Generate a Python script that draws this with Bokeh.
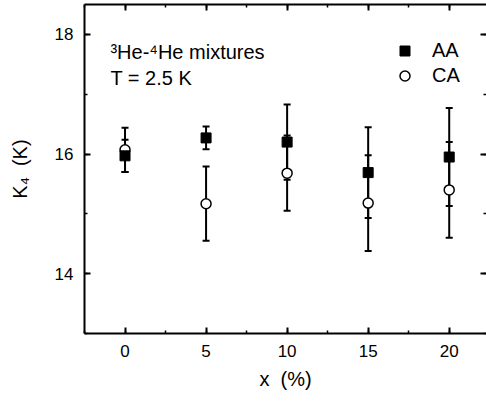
from bokeh.plotting import figure
from bokeh.models import (ColumnDataSource, Whisker, TeeHead, LinearAxis, Range1d,
                          SingleIntervalTicker, Legend, LegendItem, Label, CustomJSTickFormatter)
from bokeh.embed import file_html
from bokeh.resources import INLINE

# ---- data ----
x_pct = [0, 5, 10, 15, 20]
aa_k4 = [15.97, 16.27, 16.20, 15.69, 15.95]
aa_err = [0.27, 0.19, 0.63, 0.76, 0.82]
ca_k4 = [16.07, 15.17, 15.68, 15.18, 15.40]
ca_err = [0.37, 0.62, 0.63, 0.80, 0.80]

FONT = "Liberation Sans"

src = ColumnDataSource(dict(
    x=x_pct,
    aa=aa_k4, aa_lo=[v - e for v, e in zip(aa_k4, aa_err)], aa_hi=[v + e for v, e in zip(aa_k4, aa_err)],
    ca=ca_k4, ca_lo=[v - e for v, e in zip(ca_k4, ca_err)], ca_hi=[v + e for v, e in zip(ca_k4, ca_err)],
))

p = figure(width=486, height=403, output_backend="svg", toolbar_location=None,
           x_range=Range1d(-2.5, 22.3), y_range=Range1d(13, 18.5),
           min_border_left=84, min_border_right=0, min_border_top=4, min_border_bottom=70,
           x_axis_label="x\u00a0\u00a0(%)", y_axis_label="K\u2084\u00a0\u00a0(K)")
p.outline_line_color = None
p.outline_line_alpha = 0
p.outline_line_width = 0
p.grid.visible = False
p.background_fill_color = "white"
p.border_fill_color = "white"

def style_axis(ax, labels=True, line=True):
    ax.major_tick_in = 6
    ax.major_tick_out = 0
    ax.minor_tick_in = 3
    ax.minor_tick_out = 0
    ax.major_tick_line_width = 2
    ax.minor_tick_line_width = 1.5
    ax.major_tick_line_color = "black"
    ax.minor_tick_line_color = "black"
    ax.axis_line_width = 2
    ax.axis_line_color = "black" if line else None
    if labels:
        ax.major_label_text_font = FONT
        ax.major_label_text_font_size = "17px"
        ax.major_label_text_color = "black"
        ax.axis_label_text_font = FONT
        ax.axis_label_text_font_size = "20px"
        ax.axis_label_text_font_style = "normal"
        ax.axis_label_text_color = "black"
    else:
        ax.formatter = CustomJSTickFormatter(code="return '';")
        ax.major_label_standoff = 0

p.xaxis.ticker = SingleIntervalTicker(interval=5, num_minor_ticks=2)
p.yaxis.ticker = SingleIntervalTicker(interval=2, num_minor_ticks=2)
style_axis(p.xaxis[0])
style_axis(p.yaxis[0])
p.xaxis[0].major_label_standoff = 11
p.xaxis[0].axis_label_standoff = 8
p.yaxis[0].major_label_standoff = 11
p.yaxis[0].axis_label_standoff = 21

top = LinearAxis(ticker=SingleIntervalTicker(interval=5, num_minor_ticks=2))
style_axis(top, labels=False)
p.add_layout(top, "above")
right = LinearAxis(ticker=SingleIntervalTicker(interval=2, num_minor_ticks=2))
style_axis(right, labels=False, line=False)
p.add_layout(right, "right")

# error bars
for lo, hi in (("aa_lo", "aa_hi"), ("ca_lo", "ca_hi")):
    w = Whisker(source=src, base="x", lower=lo, upper=hi, line_width=2, line_color="black",
                upper_head=TeeHead(size=7, line_width=2, line_color="black"),
                lower_head=TeeHead(size=7, line_width=2, line_color="black"))
    p.add_layout(w)

r_ca = p.scatter("x", "ca", source=src, marker="circle", size=10,
                 fill_color="white", line_color="black", line_width=1.5)
r_aa = p.scatter("x", "aa", source=src, marker="square", size=10,
                 fill_color="black", line_color="black", line_width=1)

legend = Legend(items=[LegendItem(label="AA", renderers=[r_aa]),
                       LegendItem(label="CA", renderers=[r_ca])],
                location=(308, 245), padding=0, margin=0, spacing=0,
                glyph_width=25, glyph_height=25, label_standoff=15,
                border_line_color=None, background_fill_alpha=0,
                label_text_font=FONT, label_text_font_size="20px", label_text_color="black")
p.add_layout(legend, "center")

for txt, yv in (("\u00b3He-\u2074He mixtures", 17.71), ("T = 2.5 K", 17.27)):
    p.add_layout(Label(x=-0.9, y=yv, text=txt, text_font=FONT, text_font_size="20px",
                       text_color="black", text_baseline="alphabetic", text_align="left"))

open("out.html", "w").write(file_html(p, INLINE))
